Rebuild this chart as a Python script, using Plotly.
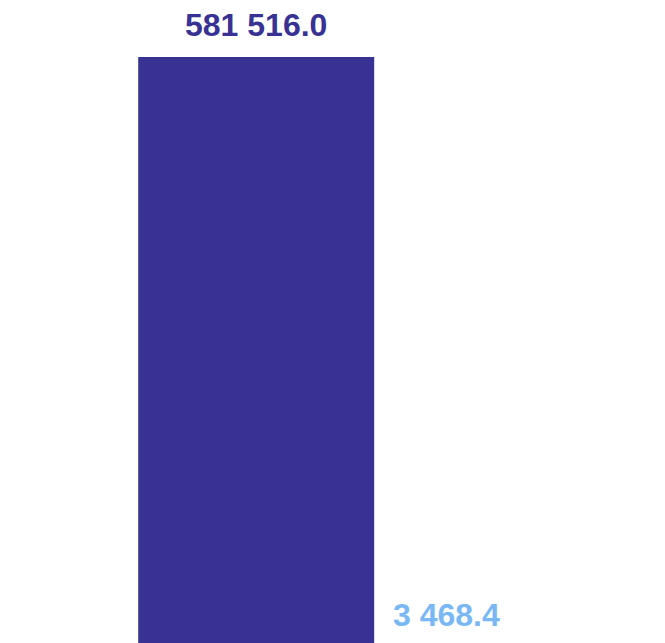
import plotly.graph_objects as go

categories = ["Series A", "Series B"]
values = [581516.0, 3468.4]
bar_colors = ["#373293", "#7ab8f5"]
label_colors = ["#373293", "#7ab8f5"]

vmax = max(values)
zero_px = 650.5
top_px = 57
fig_h = 643
k = (zero_px - top_px) / vmax
y_range = [(zero_px - fig_h) / k, zero_px / k]

fig = go.Figure()
fig.add_trace(go.Bar(
    x=categories,
    y=values,
    marker=dict(color=bar_colors, line=dict(width=0)),
    width=[1.242, 0.76],
    hoverinfo="skip",
))

for cat, val, col in zip(categories, values, label_colors):
    frac = (val - y_range[0]) / (y_range[1] - y_range[0])
    fig.add_annotation(
        x=cat, y=frac, xref="x", yref="y domain",
        text="{:,.1f}".format(val).replace(",", " "),
        showarrow=False, yanchor="bottom", xanchor="center",
        yshift=12,
        font=dict(family="Liberation Sans, Arial, sans-serif", size=32, color=col, weight="bold"),
    )

fig.update_layout(
    width=665, height=fig_h,
    margin=dict(l=0, r=0, t=0, b=0),
    paper_bgcolor="white", plot_bgcolor="white",
    showlegend=False,
    xaxis=dict(type="category", range=[-256.2 / 190, (665 - 256.2) / 190],
               visible=False, fixedrange=True),
    yaxis=dict(range=y_range, visible=False, fixedrange=True),
)

fig.write_html(
    "out.html",
    config={"displayModeBar": False},
    post_script="document.body.style.margin='0';document.body.style.overflow='hidden';",
)
